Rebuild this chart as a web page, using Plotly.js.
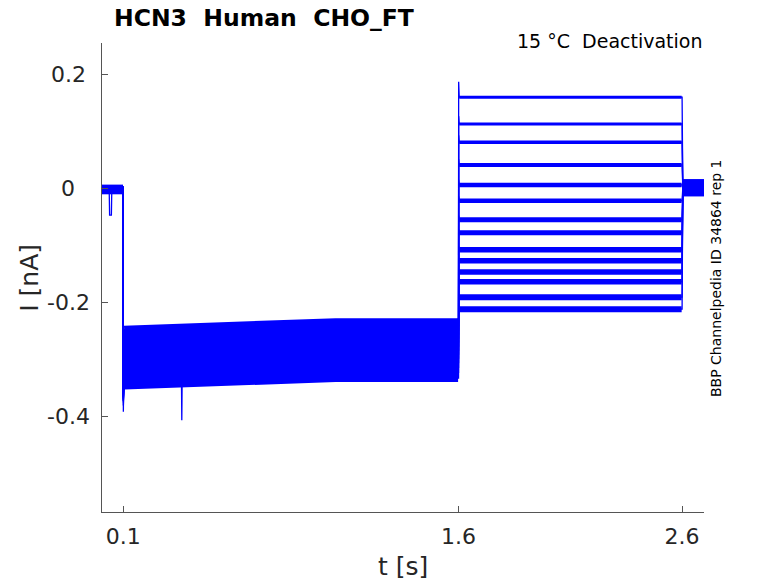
<!DOCTYPE html>
<html>
<head>
<meta charset="utf-8">
<script src="https://cdn.plot.ly/plotly-3.0.1.min.js"></script>
<style>
  html, body { margin: 0; padding: 0; background: #fff; }
  #chart { width: 778px; height: 583px; }
</style>
</head>
<body>
<div id="chart"></div>
<script>
// protocol step times [s]
var stepT = [0.1, 1.6, 2.6];

// sample times of each segment [s]
var baseT = [0.005, 0.03, 0.06, 0.099];
var seg1T = [0.104, 0.25, 0.45, 0.65, 0.85, 1.05, 1.25, 1.45, 1.598];
var seg2T = [1.603, 1.8, 2.0, 2.2, 2.4, 2.598];
var tailT = [2.603, 2.65, 2.698];

// slow upward drift of the activating step [nA], read at seg1T
var seg1Drift = [0, 0.002, 0.005, 0.009, 0.012, 0.013, 0.013, 0.014, 0.013];

// per sweep levels [nA]
var baseLevel = [0.004, 0.002, -0.001, 0.003, -0.003, 0.001, -0.005, 0.000, 0.002, -0.002, -0.004, 0.003, -0.006, 0.001];
var onsetPeak = [-0.391, -0.375, -0.370, -0.372, -0.368, -0.365, -0.370, -0.366, -0.362, -0.368, -0.360, -0.365, -0.372, -0.380];
var seg1Level = [-0.247, -0.254, -0.261, -0.268, -0.275, -0.282, -0.289, -0.296, -0.303, -0.310, -0.318, -0.326, -0.335, -0.345];
var stepPeak  = [0.188, 0.128, 0.094, 0.052, 0.016, -0.013, -0.047, -0.071, -0.101, -0.121, -0.141, -0.158, -0.185, -0.206];
var seg2Level = [0.161, 0.114, 0.082, 0.042, 0.007, -0.021, -0.054, -0.077, -0.107, -0.126, -0.146, -0.163, -0.190, -0.211];
var tailLevel = [0.012, 0.009, 0.006, 0.004, 0.002, 0.000, -0.002, -0.004, -0.006, 0.010, 0.007, -0.008, 0.003, -0.001];

// single glitches seen in the record
var dipSweep = 0;
var dipT = [0.037, 0.039, 0.047, 0.049];
var dipI = [0.004, -0.046, -0.046, 0.004];
var spikeSweep = 3;
var spikeT = [0.359, 0.362, 0.365];
var spikeI = [-0.268, -0.406, -0.268];

// ticks
var xTicks = [0.1, 1.6, 2.6];
var xTickText = ['0.1', '1.6', '2.6'];
var yTicks = [0.2, 0, -0.2, -0.4];
var yTickText = ['0.2', '0', '-0.2', '-0.4'];

// how thick the noise band of each sweep looks during the test step
var seg2Width = [3, 3, 3.5, 4, 4.5, 4.5, 5, 5, 5.5, 5.5, 5.5, 5.5, 6, 6];

var blue = '#0000ff';

function flat(t, v)
{
    return t.map(function(){ return v; });
}

function addEvent(xs, ys, evT, evI)
{
    var pts = [];
    for (var i = 0; i < xs.length; i++) pts.push([xs[i], ys[i]]);
    for (i = 0; i < evT.length; i++) pts.push([evT[i], evI[i]]);
    pts.sort(function(a, b){ return a[0] - b[0]; });
    return [pts.map(function(p){ return p[0]; }), pts.map(function(p){ return p[1]; })];
}

var traces = [];
for (var k = 0; k < seg1Level.length; k++)
{
    var s1 = seg1T.map(function(t, j){ return seg1Level[k] + seg1Drift[j]; });
    var b = flat(baseT, baseLevel[k]);
    var s2 = flat(seg2T, seg2Level[k]);
    var tl = flat(tailT, tailLevel[k]);

    // noise bands
    traces.push({x: baseT, y: b, mode: 'lines', line: {color: blue, width: 4}});
    traces.push({x: seg1T, y: s1, mode: 'lines', line: {color: blue, width: 8}});
    traces.push({x: seg2T, y: s2, mode: 'lines', line: {color: blue, width: seg2Width[k]}});
    traces.push({x: tailT, y: tl, mode: 'lines', line: {color: blue, width: 6}});

    // full sweep, thin, with the step edges
    var xs = [].concat(baseT, [stepT[0], stepT[0] + 0.0005], seg1T, [stepT[1], stepT[1] + 0.0005], seg2T, [stepT[2]], tailT);
    var ys = [].concat(b, [baseLevel[k], onsetPeak[k]], s1, [s1[s1.length - 1], stepPeak[k]], s2, [seg2Level[k]], tl);
    if (k == dipSweep)
    {
        var r = addEvent(xs, ys, dipT, dipI);
        xs = r[0]; ys = r[1];
    }
    if (k == spikeSweep)
    {
        var r2 = addEvent(xs, ys, spikeT, spikeI);
        xs = r2[0]; ys = r2[1];
    }
    traces.push({x: xs, y: ys, mode: 'lines', line: {color: blue, width: 1.3}});
}

var font = 'DejaVu Sans, sans-serif';

var notes = [
    {text: '<b>HCN3\u00a0\u00a0Human\u00a0\u00a0CHO_FT</b>', xref: 'paper', yref: 'paper', x: 0.269, y: 1.053,
     xanchor: 'center', yanchor: 'middle', showarrow: false, font: {size: 23.5, color: '#000'}},
    {text: '15 °C\u00a0\u00a0Deactivation', xref: 'paper', yref: 'paper', x: 1.0, y: 1.004,
     xanchor: 'right', yanchor: 'middle', showarrow: false, font: {size: 19, color: '#000'}},
    {text: 'BBP Channelpedia ID 34864 rep 1', xref: 'paper', yref: 'paper', x: 1.02, y: 0.499,
     xanchor: 'center', yanchor: 'middle', textangle: -90, showarrow: false, font: {size: 14, color: '#000'}},
    {text: 't [s]', xref: 'paper', yref: 'paper', x: 0.5, y: -0.117,
     xanchor: 'center', yanchor: 'middle', showarrow: false, font: {size: 25, color: '#262626'}},
    {text: 'I [nA]', xref: 'paper', yref: 'paper', x: -0.12, y: 0.499,
     xanchor: 'center', yanchor: 'middle', textangle: -90, showarrow: false, font: {size: 25, color: '#262626'}}
];
// y tick labels are centred in a column left of the axis
for (var i = 0; i < yTicks.length; i++)
{
    notes.push({text: yTickText[i], xref: 'paper', yref: 'y', x: -0.056, y: yTicks[i],
                xanchor: 'center', yanchor: 'middle', showarrow: false, font: {size: 22, color: '#262626'}});
}

var layout =
{
    width: 778,
    height: 583,
    margin: {l: 102, r: 74, t: 43, b: 71},
    paper_bgcolor: '#fff',
    plot_bgcolor: '#fff',
    showlegend: false,
    hovermode: false,
    font: {family: font, color: '#262626'},
    xaxis: {
        range: [0.005, 2.698],
        tickvals: xTicks, ticktext: xTickText,
        ticks: 'inside', ticklen: 6, tickcolor: '#555', tickwidth: 1,
        ticklabelstandoff: 5,
        showline: true, linecolor: '#555', linewidth: 1,
        showgrid: false, zeroline: false,
        tickfont: {size: 22, color: '#262626'}
    },
    yaxis: {
        range: [-0.567, 0.256],
        tickvals: yTicks, showticklabels: false,
        ticks: 'inside', ticklen: 6, tickcolor: '#555', tickwidth: 1,
        showline: true, linecolor: '#555', linewidth: 1,
        showgrid: false, zeroline: false
    },
    annotations: notes
};

Plotly.newPlot('chart', traces, layout, {displayModeBar: false, staticPlot: true});
</script>
</body>
</html>
